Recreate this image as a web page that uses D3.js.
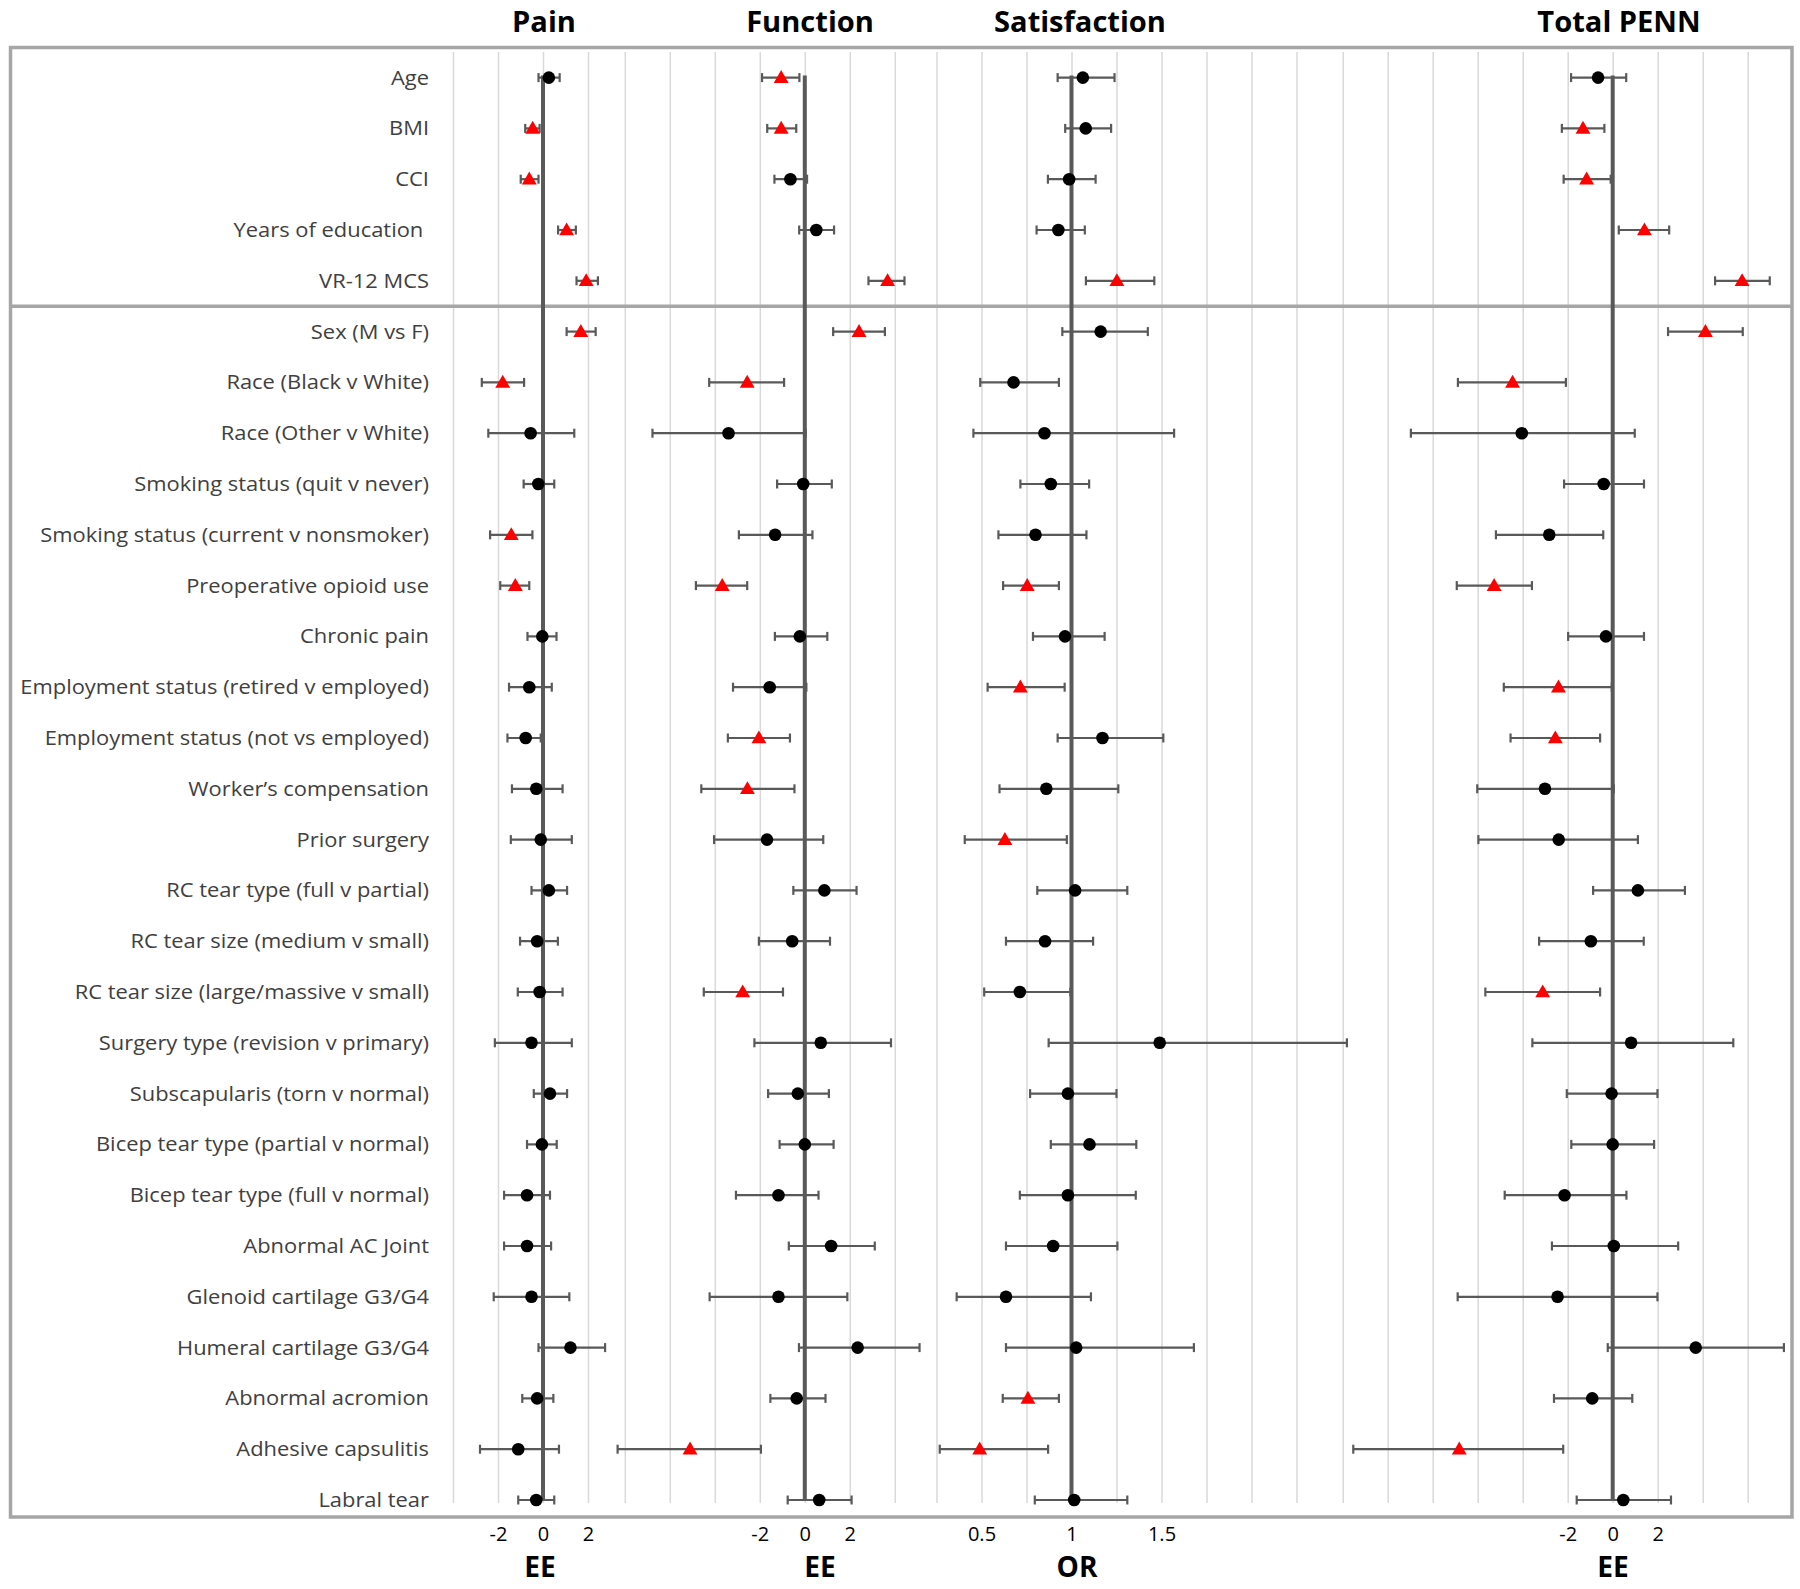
<!DOCTYPE html>
<html><head><meta charset="utf-8">
<script src="https://cdn.jsdelivr.net/npm/d3@7"></script>
<style>body{margin:0;background:#fff}</style>
</head><body><svg id="c" width="1800" height="1589"></svg>
<script>
const labels = ["Age","BMI","CCI","Years of education ","VR-12 MCS","Sex (M vs F)","Race (Black v White)","Race (Other v White)","Smoking status (quit v never)","Smoking status (current v nonsmoker)","Preoperative opioid use","Chronic pain","Employment status (retired v employed)","Employment status (not vs employed)","Worker\u2019s compensation","Prior surgery","RC tear type (full v partial)","RC tear size (medium v small)","RC tear size (large/massive v small)","Surgery type (revision v primary)","Subscapularis (torn v normal)","Bicep tear type (partial v normal)","Bicep tear type (full v normal)","Abnormal AC Joint","Glenoid cartilage G3/G4","Humeral cartilage G3/G4","Abnormal acromion","Adhesive capsulitis","Labral tear"];

const painEst = [0.26,-0.46,-0.61,1.05,1.92,1.68,-1.79,-0.55,-0.21,-1.41,-1.23,-0.03,-0.61,-0.77,-0.3,-0.1,0.26,-0.26,-0.15,-0.51,0.31,-0.05,-0.71,-0.71,-0.51,1.22,-0.26,-1.1,-0.3];
const painLo  = [-0.2,-0.79,-0.99,0.67,1.49,1.05,-2.72,-2.43,-0.86,-2.35,-1.9,-0.69,-1.51,-1.58,-1.38,-1.43,-0.51,-1.02,-1.12,-2.14,-0.41,-0.71,-1.73,-1.73,-2.19,-0.2,-0.92,-2.8,-1.1];
const painHi  = [0.74,-0.15,-0.2,1.46,2.44,2.34,-0.84,1.39,0.5,-0.47,-0.61,0.6,0.39,-0.1,0.87,1.28,1.07,0.66,0.87,1.28,1.07,0.61,0.31,0.36,1.17,2.76,0.46,0.71,0.5];
const painSig = [0,1,1,1,1,1,1,0,0,1,1,0,0,0,0,0,0,0,0,0,0,0,0,0,0,0,0,0,0];

const funcEst = [-1.05,-1.05,-0.64,0.51,3.68,2.41,-2.56,-3.39,-0.07,-1.32,-3.67,-0.22,-1.56,-2.04,-2.55,-1.68,0.87,-0.56,-2.76,0.71,-0.31,0,-1.17,1.17,-1.17,2.35,-0.36,-5.1,0.64];
const funcLo  = [-1.9,-1.67,-1.35,-0.25,2.83,1.26,-4.25,-6.77,-1.23,-2.93,-4.84,-1.33,-3.19,-3.42,-4.6,-4.03,-0.51,-2.04,-4.49,-2.24,-1.63,-1.12,-3.06,-0.71,-4.23,-0.26,-1.53,-8.32,-0.76];
const funcHi  = [-0.24,-0.38,0.1,1.3,4.43,3.56,-0.92,0.04,1.2,0.34,-2.56,1.0,0.07,-0.66,-0.46,0.82,2.3,1.12,-0.97,3.83,1.07,1.28,0.61,3.11,1.89,5.1,0.92,-1.95,2.08];
const funcSig = [1,1,0,0,1,1,1,0,0,0,1,0,0,1,1,0,0,0,1,0,0,0,0,0,0,0,0,1,0];

const satEst = [1.063,1.079,0.987,0.927,1.252,1.162,0.678,0.85,0.885,0.80,0.754,0.964,0.716,1.172,0.86,0.63,1.02,0.853,0.713,1.49,0.98,1.1,0.98,0.898,0.636,1.026,0.758,0.49,1.015];
const satLo  = [0.923,0.965,0.869,0.806,1.08,0.949,0.493,0.455,0.716,0.594,0.62,0.786,0.534,0.923,0.6,0.407,0.81,0.636,0.515,0.873,0.77,0.885,0.713,0.636,0.362,0.636,0.618,0.268,0.796];
const satHi  = [1.239,1.22,1.134,1.074,1.46,1.424,0.93,1.57,1.098,1.083,0.93,1.184,0.962,1.51,1.26,0.974,1.31,1.12,0.994,2.53,1.25,1.36,1.357,1.255,1.108,1.68,0.93,0.87,1.31];
const satSig = [0,0,0,0,1,0,0,0,0,0,1,0,1,0,0,1,0,0,0,0,0,0,0,0,0,0,1,1,0];

const totEst = [-0.65,-1.32,-1.16,1.41,5.75,4.12,-4.45,-4.04,-0.4,-2.82,-5.27,-0.3,-2.41,-2.55,-3.01,-2.4,1.12,-0.97,-3.11,0.82,-0.05,0,-2.14,0.05,-2.45,3.69,-0.91,-6.82,0.47];
const totLo  = [-1.85,-2.26,-2.18,0.27,4.55,2.46,-6.88,-8.97,-2.16,-5.19,-6.93,-1.98,-4.84,-4.54,-6.02,-5.97,-0.87,-3.27,-5.66,-3.57,-2.04,-1.84,-4.8,-2.7,-6.89,-0.22,-2.61,-11.53,-1.6];
const totHi  = [0.6,-0.37,-0.09,2.51,6.98,5.78,-2.08,0.98,1.39,-0.42,-3.59,1.39,-0.04,-0.56,0.05,1.12,3.21,1.38,-0.56,5.36,1.99,1.84,0.61,2.91,1.99,7.61,0.87,-2.2,2.59];
const totSig = [0,1,1,1,1,1,1,0,0,0,1,0,1,1,0,0,0,0,1,0,0,0,0,0,0,0,0,1,0];

const titles = ["Pain","Function","Satisfaction","Total PENN"];
const units = ["EE","EE","OR","EE"];
const refValues = [0,0,1,0];
const tickValues = [[-2,0,2],[-2,0,2],[0.5,1,1.5],[-2,0,2]];
const gridValues = [[-4,-2,0,2],[-8,-6,-4,-2,0,2,4],[0.25,0.5,0.75,1,1.25,1.5,1.75,2,2.25],[-12,-10,-8,-6,-4,-2,0,2,4,6]];

// layout
const panelLayout = [
  {dom:[0,2], rng:[543,588], titleX:544, unitX:540},
  {dom:[0,2], rng:[804.8,849.8], titleX:810, unitX:820},
  {dom:[1,2], rng:[1071.5,1251.5], titleX:1080, unitX:1077},
  {dom:[0,2], rng:[1612.7,1657.7], titleX:1619, unitX:1613}
];
const series = [
  [painEst,painLo,painHi,painSig],
  [funcEst,funcLo,funcHi,funcSig],
  [satEst,satLo,satHi,satSig],
  [totEst,totLo,totHi,totSig]
];

const svg = d3.select("#c");
svg.append("rect").attr("width",1800).attr("height",1589).attr("fill","#fff");
const y = d3.scalePoint().domain(labels).range([77.6,1500]);
const gridTop = 52, gridBot = 1503;
const labelFont = "'Open Sans', sans-serif";

const scales = panelLayout.map(p => d3.scaleLinear().domain(p.dom).range(p.rng));

// gridlines
scales.forEach((x,i) => {
  const g = svg.append("g").attr("transform",`translate(0,${gridBot})`)
    .call(d3.axisBottom(x).tickValues(gridValues[i]).tickSize(-(gridBot-gridTop)).tickFormat(""));
  g.select(".domain").remove();
  g.selectAll("line").attr("stroke","#d9d9d9").attr("stroke-width",1.5);
});

// box & separator
svg.append("rect").attr("x",10.5).attr("y",47.5).attr("width",1781.5).attr("height",1469.5)
  .attr("fill","none").attr("stroke","#a6a6a6").attr("stroke-width",3.5);
const sepY = (y(labels[4]) + y(labels[5]))/2;
svg.append("line").attr("x1",10.5).attr("x2",1792).attr("y1",sepY).attr("y2",sepY)
  .attr("stroke","#a6a6a6").attr("stroke-width",3.5);

// reference lines
scales.forEach((x,i) => {
  svg.append("line").attr("x1",x(refValues[i])).attr("x2",x(refValues[i]))
    .attr("y1",y(labels[0])-2).attr("y2",y(labels[labels.length-1]))
    .attr("stroke","#595959").attr("stroke-width",4);
});

// error bars and markers
const tri = d3.symbol().type(d3.symbolTriangle).size(96);
scales.forEach((x,i) => {
  const [est,lo,hi,sig] = series[i];
  const data = labels.map((l,k) => ({l, e:est[k], lo:lo[k], hi:hi[k], s:sig[k]}));
  const g = svg.append("g");
  g.selectAll("line.ci").data(data).join("line").attr("class","ci")
    .attr("x1",d=>x(d.lo)).attr("x2",d=>x(d.hi)).attr("y1",d=>y(d.l)).attr("y2",d=>y(d.l))
    .attr("stroke","#595959").attr("stroke-width",2.2);
  ["lo","hi"].forEach(k => {
    g.selectAll("line.cap"+k).data(data).join("line").attr("class","cap"+k)
      .attr("x1",d=>x(d[k])).attr("x2",d=>x(d[k])).attr("y1",d=>y(d.l)-4.5).attr("y2",d=>y(d.l)+4.5)
      .attr("stroke","#595959").attr("stroke-width",2.2);
  });
  g.selectAll("circle").data(data.filter(d=>!d.s)).join("circle")
    .attr("cx",d=>x(d.e)).attr("cy",d=>y(d.l)).attr("r",6.3).attr("fill","#000");
  g.selectAll("path").data(data.filter(d=>d.s)).join("path")
    .attr("d",tri).attr("transform",d=>`translate(${x(d.e)},${y(d.l)+1})`).attr("fill","#ff0000");
});

// row labels
const lab = svg.append("g");
const labelTexts = lab.selectAll("text").data(labels).join("text")
  .attr("text-anchor","end").attr("font-family",labelFont).attr("font-size",20)
  .attr("fill","#404040").style("white-space","pre")
  .text(d=>d);
const probe = labelTexts.filter(d=>d.startsWith("Employment status (retired")).node();
const ls = 409 / probe.getComputedTextLength();
labelTexts.attr("transform",d=>`translate(429,${y(d)+7}) scale(${ls},1)`);

// titles & units
const tg = svg.append("g");
const tt = tg.selectAll("text.t").data(titles).join("text").attr("class","t")
  .attr("text-anchor","middle").attr("font-family",labelFont).attr("font-weight",700)
  .attr("font-size",29).attr("fill","#000").text(d=>d);
const ts = 172 / tt.filter(d=>d==="Satisfaction").node().getComputedTextLength();
tt.attr("transform",(d,i)=>`translate(${panelLayout[i].titleX},32) scale(${ts},1)`);
tg.selectAll("text.u").data(units).join("text").attr("class","u")
  .attr("text-anchor","middle").attr("font-family",labelFont).attr("font-weight",700)
  .attr("font-size",28).attr("fill","#000").text(d=>d)
  .attr("transform",(d,i)=>`translate(${panelLayout[i].unitX},1577) scale(${ts},1)`);

// tick labels via axes
scales.forEach((x,i) => {
  const g = svg.append("g").attr("transform","translate(0,1541)")
    .call(d3.axisBottom(x).tickValues(tickValues[i]).tickSize(0).tickFormat(d=>String(d)));
  g.select(".domain").remove();
  g.selectAll("text").attr("y",0).attr("dy",null).attr("font-family",labelFont)
    .attr("font-size",20).attr("fill","#000");
});
</script></body></html>
